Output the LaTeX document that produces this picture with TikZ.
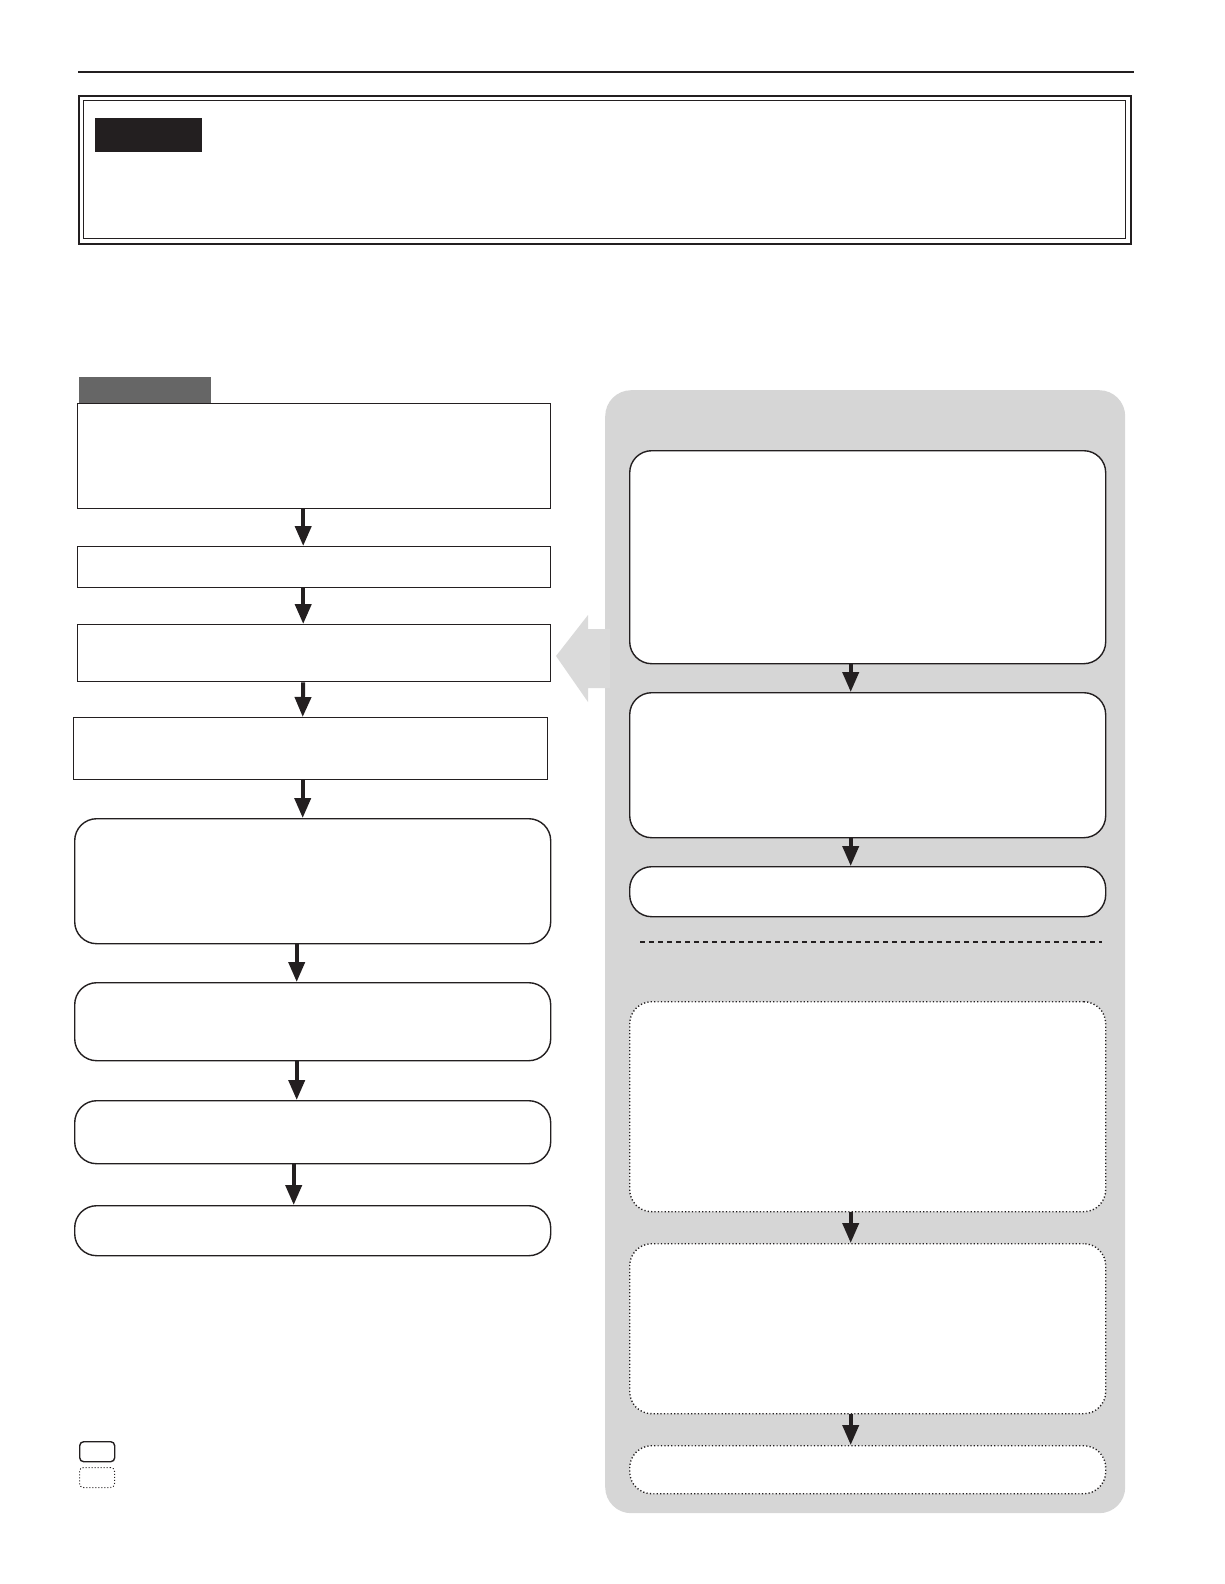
\documentclass[tikz,border=0pt]{standalone}
\usetikzlibrary{arrows.meta}
\definecolor{panelgray}{RGB}{214,214,214}
\definecolor{arrowgray}{RGB}{218,218,218}
\definecolor{tabgray}{RGB}{102,102,102}
\definecolor{ink}{RGB}{35,31,32}
\tikzset{
  sqbox/.style={draw=ink, line width=1.4pt, fill=white, anchor=north west, inner sep=0pt},
  rbox/.style={sqbox, rounded corners=22pt},
  dbox/.style={rbox, dash pattern=on 1.2pt off 2.2pt},
  flow/.style={draw=ink, line width=4pt, -{Triangle[width=16pt,length=20pt]}, shorten >=0pt},
}
\begin{document}
\begin{tikzpicture}[x=1pt,y=-1pt]
\useasboundingbox (0,0) rectangle (1224,1584);
% top rule
\draw[ink, line width=2.5pt] (78,72) -- (1134,72);
% header frame
\node[draw=ink, line width=1.6pt, anchor=north west, inner sep=0pt, minimum width=1052pt, minimum height=148pt] (outer) at (78,95) {};
\node[draw=ink, line width=1.4pt, anchor=north west, inner sep=0pt, minimum width=1042pt, minimum height=138pt] (inner) at (83,100) {};
\node[fill=ink, anchor=north west, inner sep=0pt, minimum width=107pt, minimum height=34pt] (label) at (95,118) {};
% right panel
\node[fill=panelgray, rounded corners=26pt, anchor=north west, inner sep=0pt, minimum width=520pt, minimum height=1123pt] (panel) at (605,390) {};
\fill[arrowgray] (556,656) -- (588,615) -- (588,629) -- (610,629) -- (610,688) -- (588,688) -- (588,702) -- cycle;
% left tab
\node[fill=tabgray, anchor=north west, inner sep=0pt, minimum width=132pt, minimum height=26pt] (tab) at (79,377) {};
% left boxes
\node[sqbox, minimum width=473pt, minimum height=105pt] (b1) at (77,403) {};
\node[sqbox, minimum width=473pt, minimum height=41pt] (b2) at (77,546) {};
\node[sqbox, minimum width=473pt, minimum height=57pt] (b3) at (77,624) {};
\node[sqbox, minimum width=474pt, minimum height=62pt] (b4) at (73,717) {};
\node[rbox, minimum width=476pt, minimum height=125pt] (b5) at (74,818) {};
\node[rbox, minimum width=476pt, minimum height=78pt] (b6) at (74,982) {};
\node[rbox, minimum width=476pt, minimum height=63pt] (b7) at (74,1100) {};
\node[rbox, minimum width=476pt, minimum height=50pt] (b8) at (74,1205) {};
% left arrows
\draw[flow] ([xshift=-11pt]b1.south) -- ([xshift=-11pt]b2.north);
\draw[flow] ([xshift=-11pt]b2.south) -- ([xshift=-11pt]b3.north);
\draw[flow] ([xshift=-11pt]b3.south) -- ([xshift=-8pt]b4.north);
\draw[flow] ([xshift=-8pt]b4.south) -- ([xshift=-10pt]b5.north);
\draw[flow] ([xshift=-16pt]b5.south) -- ([xshift=-16pt]b6.north);
\draw[flow] ([xshift=-16pt]b6.south) -- ([xshift=-16pt]b7.north);
\draw[flow] ([xshift=-19pt]b7.south) -- ([xshift=-19pt]b8.north);
% right boxes
\node[rbox, minimum width=476pt, minimum height=213pt] (r1) at (629,450) {};
\node[rbox, minimum width=476pt, minimum height=145pt] (r2) at (629,692) {};
\node[rbox, minimum width=476pt, minimum height=50pt] (r3) at (629,866) {};
\coordinate (dl) at (640,942);
\coordinate (dr) at (1102,942);
\draw[ink, line width=2pt, dash pattern=on 5pt off 4pt] (dl) -- (dr);
\node[dbox, minimum width=476pt, minimum height=210pt] (r4) at (629,1001) {};
\node[dbox, minimum width=476pt, minimum height=170pt] (r5) at (629,1243) {};
\node[dbox, minimum width=476pt, minimum height=48pt] (r6) at (629,1445) {};
\draw[flow] ([xshift=-17pt]r1.south) -- ([xshift=-17pt]r2.north);
\draw[flow] ([xshift=-17pt]r2.south) -- ([xshift=-17pt]r3.north);
\draw[flow] ([xshift=-17pt]r4.south) -- ([xshift=-17pt]r5.north);
\draw[flow] ([xshift=-17pt]r5.south) -- ([xshift=-17pt]r6.north);
% legend
\node[draw=ink, line width=1.4pt, rounded corners=4pt, anchor=north west, inner sep=0pt, minimum width=35pt, minimum height=20pt] (lg1) at (79,1441) {};
\node[draw=ink, line width=1pt, dash pattern=on 1pt off 2pt, rounded corners=4pt, anchor=north west, inner sep=0pt, minimum width=35pt, minimum height=20pt] (lg2) at (79,1467) {};
\end{tikzpicture}
\end{document}
